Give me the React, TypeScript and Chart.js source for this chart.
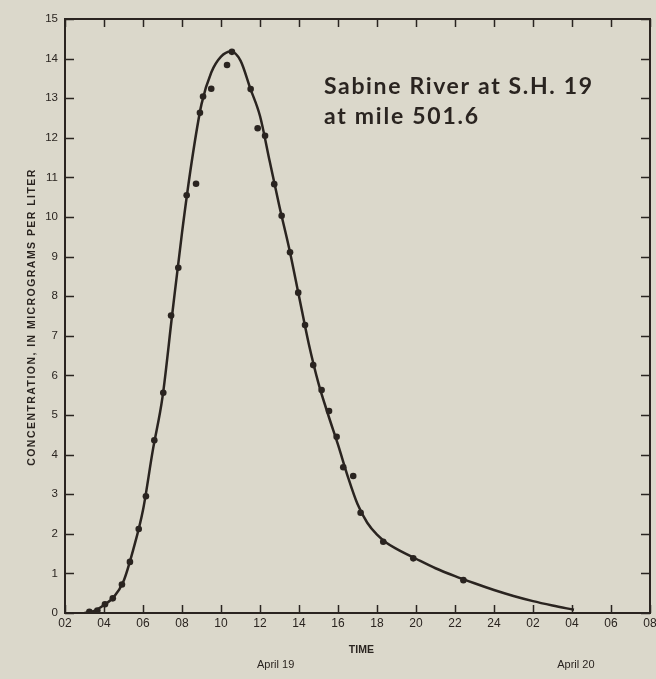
import React, { useEffect, useRef } from "react";
import { Chart, registerables } from "chart.js";

Chart.register(...registerables);

// Measured samples (hours after midnight, April 19)
const sampleHours = [3.25, 3.66, 4.05, 4.45, 4.92, 5.33, 5.78, 6.15, 6.58, 7.04, 7.44, 7.81, 8.24, 8.72, 8.92, 9.08, 9.5, 10.31, 10.56, 11.52, 11.88, 12.26, 12.73, 13.11, 13.54, 13.96, 14.31, 14.73, 15.16, 15.54, 15.93, 16.27, 16.78, 17.16, 18.32, 19.86, 22.43];
const sampleConc = [0.03, 0.06, 0.22, 0.37, 0.72, 1.29, 2.12, 2.95, 4.36, 5.56, 7.51, 8.72, 10.55, 10.84, 12.63, 13.04, 13.24, 13.84, 14.17, 13.23, 12.24, 12.05, 10.83, 10.03, 9.11, 8.09, 7.27, 6.26, 5.63, 5.1, 4.45, 3.68, 3.46, 2.53, 1.8, 1.38, 0.83];

// Fitted curve
const curveHours = [3.0, 3.5, 4.0, 4.5, 5.0, 5.5, 6.0, 6.5, 7.0, 7.5, 8.0, 8.5, 9.0, 9.5, 10.0, 10.5, 11.0, 11.5, 12.0, 12.5, 13.0, 13.5, 14.0, 14.5, 15.0, 15.5, 16.0, 16.5, 17.0, 17.5, 18.0, 18.5, 19.0, 20.0, 21.0, 22.0, 23.0, 24.0, 25.0, 26.0, 27.0, 28.1];
const curveConc = [0.0, 0.05, 0.2, 0.4, 0.8, 1.6, 2.6, 4.1, 5.45, 7.55, 9.6, 11.4, 12.85, 13.65, 14.05, 14.18, 13.95, 13.25, 12.55, 11.4, 10.26, 9.2, 8.0, 6.8, 5.8, 5.0, 4.25, 3.45, 2.75, 2.28, 1.98, 1.77, 1.62, 1.37, 1.13, 0.93, 0.75, 0.58, 0.43, 0.3, 0.19, 0.08];

const xMin = 2;
const xMax = 32;
const yMin = 0;
const yMax = 15;

const yTitle = "CONCENTRATION, IN MICROGRAMS PER LITER";
const xTitle = "TIME";
const dayLabels = ["April 19", "April 20"];
const dayLabelHours = [12.8, 28.2];
const siteLines = ["Sabine River at S.H. 19", "at mile 501.6"];

const INK = "#2a2420";
const PAPER = "#dbd8cb";

const hourLabel = (v: number) => {
  const h = v % 24 === 0 ? 24 : v % 24;
  return String(h).padStart(2, "0");
};

const spacedText = (ctx: any, t: string, px: number, py: number, target: number) => {
  ctx.letterSpacing = "0px";
  const w = ctx.measureText(t).width;
  const ls = Math.max(0, (target - w) / (t.length - 1));
  ctx.letterSpacing = ls.toFixed(2) + "px";
  ctx.fillText(t, px, py);
  ctx.letterSpacing = "0px";
};

const framePlugin = {
  id: "frame",
  beforeDraw(chart: any) {
    const { ctx, width, height } = chart;
    ctx.save();
    ctx.fillStyle = PAPER;
    ctx.fillRect(0, 0, width, height);
    ctx.restore();
  },
  afterDraw(chart: any) {
    const { ctx, chartArea: a, scales } = chart;
    const x = scales.x;
    const y = scales.y;
    ctx.save();
    ctx.strokeStyle = INK;
    ctx.lineWidth = 2;
    ctx.strokeRect(a.left, a.top, a.right - a.left, a.bottom - a.top);
    ctx.lineWidth = 1.5;
    ctx.beginPath();
    x.ticks.forEach((_t: any, i: number) => {
      const px = Math.round(x.getPixelForTick(i)) + 0.5;
      ctx.moveTo(px, a.bottom);
      ctx.lineTo(px, a.bottom - 8);
      ctx.moveTo(px, a.top);
      ctx.lineTo(px, a.top + 8);
    });
    y.ticks.forEach((_t: any, i: number) => {
      const py = Math.round(y.getPixelForTick(i)) + 0.5;
      ctx.moveTo(a.left, py);
      ctx.lineTo(a.left + 9, py);
      ctx.moveTo(a.right, py);
      ctx.lineTo(a.right - 9, py);
    });
    ctx.stroke();

    ctx.fillStyle = INK;
    // y title
    ctx.save();
    ctx.translate(32, (a.top + a.bottom) / 2 + 1);
    ctx.rotate(-Math.PI / 2);
    ctx.font = "bold 10.5px 'Liberation Sans', Arial, sans-serif";
    ctx.textAlign = "center";
    ctx.textBaseline = "middle";
    spacedText(ctx, yTitle, 0, 0, 296);
    ctx.restore();

    // x title and day labels
    ctx.textAlign = "center";
    ctx.textBaseline = "middle";
    ctx.font = "bold 10.5px 'Liberation Sans', Arial, sans-serif";
    ctx.fillText(xTitle, x.getPixelForValue(17.2), a.bottom + 37);
    ctx.font = "11px 'Liberation Sans', Arial, sans-serif";
    dayLabels.forEach((t, i) => {
      ctx.fillText(t, x.getPixelForValue(dayLabelHours[i]), a.bottom + 52);
    });

    // site annotation
    ctx.textAlign = "left";
    ctx.textBaseline = "alphabetic";
    ctx.font = "bold 23px Lato, 'DejaVu Sans', sans-serif";
    const targets = [268, 154];
    const lx = x.getPixelForValue(15.28);
    const ly = y.getPixelForValue(13.1);
    siteLines.forEach((t, i) => {
      spacedText(ctx, t, lx, ly + i * 30, targets[i]);
    });
    ctx.restore();
  },
};

export default function App() {
  const ref = useRef<HTMLCanvasElement | null>(null);
  useEffect(() => {
    if (!ref.current) return;
    const chart = new Chart(ref.current, {
      type: "scatter",
      data: {
        datasets: [
          {
            type: "line",
            label: "curve",
            data: curveHours.map((h, i) => ({ x: h, y: curveConc[i] })),
            borderColor: INK,
            borderWidth: 2.5,
            pointRadius: 0,
            cubicInterpolationMode: "monotone",
            fill: false,
          } as any,
          {
            type: "scatter",
            label: "samples",
            data: sampleHours.map((h, i) => ({ x: h, y: sampleConc[i] })),
            backgroundColor: INK,
            borderColor: INK,
            pointRadius: 3.3,
            pointBorderWidth: 0,
          },
        ],
      },
      options: {
        responsive: false,
        animation: false,
        devicePixelRatio: 1,
        layout: { padding: { top: 19, right: 6, bottom: 0, left: 0 } },
        plugins: { legend: { display: false }, tooltip: { enabled: false } },
        scales: {
          x: {
            type: "linear",
            min: xMin,
            max: xMax,
            grid: { display: false, drawTicks: false },
            border: { display: false },
            ticks: {
              stepSize: 2,
              padding: 3,
              color: INK,
              font: { family: "'Liberation Sans', Arial, sans-serif", size: 12 },
              maxRotation: 0,
              autoSkip: false,
              callback: (v: any) => hourLabel(Number(v)),
            },
            afterFit: (s: any) => {
              s.height = 66;
              s.paddingLeft = 0;
              s.paddingRight = 0;
            },
          },
          y: {
            type: "linear",
            min: yMin,
            max: yMax,
            grid: { display: false, drawTicks: false },
            border: { display: false },
            ticks: {
              stepSize: 1,
              padding: 7,
              color: INK,
              font: { family: "'Liberation Sans', Arial, sans-serif", size: 11.5 },
            },
            afterFit: (s: any) => {
              s.width = 65;
              s.paddingTop = 0;
              s.paddingBottom = 0;
            },
          },
        },
      },
      plugins: [framePlugin],
    } as any);
    return () => chart.destroy();
  }, []);
  return (
    <div style={{ position: "absolute", left: 0, top: 0, width: 656, height: 679, background: PAPER }}>
      <canvas ref={ref} width={656} height={679} style={{ display: "block" }} />
    </div>
  );
}
